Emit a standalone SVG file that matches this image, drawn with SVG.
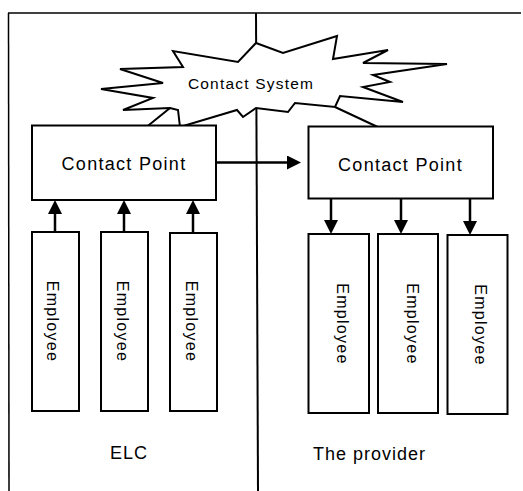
<svg xmlns="http://www.w3.org/2000/svg" width="523" height="491" viewBox="0 0 523 491">
<style>
.frame{fill:none;stroke:#000;stroke-width:1.5}
.divider{fill:none;stroke:#000;stroke-width:2}
.box{fill:#fff;stroke:#000;stroke-width:2}
.star{fill:#fff;stroke:#000;stroke-width:2;stroke-linejoin:miter}
.conn{fill:none;stroke:#000;stroke-width:2.5}
.t{font-family:"Liberation Sans",Arial,sans-serif;fill:#000}
.cp{font-size:18px;letter-spacing:1.3px}
.cs{font-size:15.5px;letter-spacing:1.2px}
.emp{font-size:16px;letter-spacing:1.3px}
.lbl{font-size:18px;letter-spacing:1px}
</style>
<defs>
<marker id="ah" markerUnits="userSpaceOnUse" markerWidth="14" markerHeight="14" viewBox="0 0 14 14" refX="10" refY="7" orient="auto">
<path d="M0,0 L14,7 L0,14 Z" fill="#000"/>
</marker>
</defs>
<g id="frame">
<line class="frame" x1="8" y1="13" x2="521" y2="13"/>
<line class="frame" x1="8.5" y1="13" x2="9" y2="491"/>
<line class="divider" x1="256" y1="13" x2="258" y2="491"/>
</g>
<g id="contact-system">
<path class="star" d="M256,43 L283,53 L337,36 L333,59 L388,50 L363,63 L447,64 L373,75 L390,82 L363,87 L403,102 L340,96 L335,107 L295,103 L288,112 L256,108 L243,117 L237,110 L180,127 L178,110 L170,108 L123,110 L153,98 L101,89 L163,83 L120,69 L183,67 L173,51 L238,62 Z"/>
<path class="star" d="M170,108 L144,129 M335,107 L382,129"/>
<text class="t cs" x="251" y="89" text-anchor="middle">Contact System</text>
</g>
<g id="elc-contact-point">
<rect class="box" x="32" y="125.5" width="184" height="74.5"/>
<text class="t cp" x="124" y="170" text-anchor="middle">Contact Point</text>
</g>
<g id="provider-contact-point">
<rect class="box" x="308.5" y="126.5" width="184.5" height="72"/>
<text class="t cp" x="400.5" y="170.5" text-anchor="middle">Contact Point</text>
</g>
<g id="connectors">
<line class="conn" x1="216" y1="162.5" x2="297" y2="162.5" marker-end="url(#ah)"/>
<line class="conn" x1="55" y1="232" x2="55" y2="204" marker-end="url(#ah)"/>
<line class="conn" x1="124" y1="232" x2="124" y2="204" marker-end="url(#ah)"/>
<line class="conn" x1="193" y1="233" x2="193" y2="204" marker-end="url(#ah)"/>
<line class="conn" x1="331" y1="198" x2="331" y2="230" marker-end="url(#ah)"/>
<line class="conn" x1="401" y1="198" x2="401" y2="230" marker-end="url(#ah)"/>
<line class="conn" x1="470" y1="198" x2="470" y2="231" marker-end="url(#ah)"/>
</g>
<g id="elc-employee-1">
<rect class="box" x="32" y="232" width="47" height="179"/>
<text class="t emp" transform="translate(46.5,321.5) rotate(90)" text-anchor="middle">Employee</text>
</g>
<g id="elc-employee-2">
<rect class="box" x="101" y="232" width="47" height="179"/>
<text class="t emp" transform="translate(116.5,321.5) rotate(90)" text-anchor="middle">Employee</text>
</g>
<g id="elc-employee-3">
<rect class="box" x="170" y="233" width="47" height="178"/>
<text class="t emp" transform="translate(185.5,321.5) rotate(90)" text-anchor="middle">Employee</text>
</g>
<g id="provider-employee-1">
<rect class="box" x="308.5" y="234" width="60.5" height="179"/>
<text class="t emp" transform="translate(336.5,324) rotate(90)" text-anchor="middle">Employee</text>
</g>
<g id="provider-employee-2">
<rect class="box" x="378" y="234" width="60" height="179"/>
<text class="t emp" transform="translate(406.5,324) rotate(90)" text-anchor="middle">Employee</text>
</g>
<g id="provider-employee-3">
<rect class="box" x="447.5" y="235" width="60" height="179"/>
<text class="t emp" transform="translate(475,325) rotate(90)" text-anchor="middle">Employee</text>
</g>
<g id="labels">
<text class="t lbl" x="129" y="459" text-anchor="middle" letter-spacing="0">ELC</text>
<text class="t lbl" x="313" y="460">The provider</text>
</g>
</svg>
